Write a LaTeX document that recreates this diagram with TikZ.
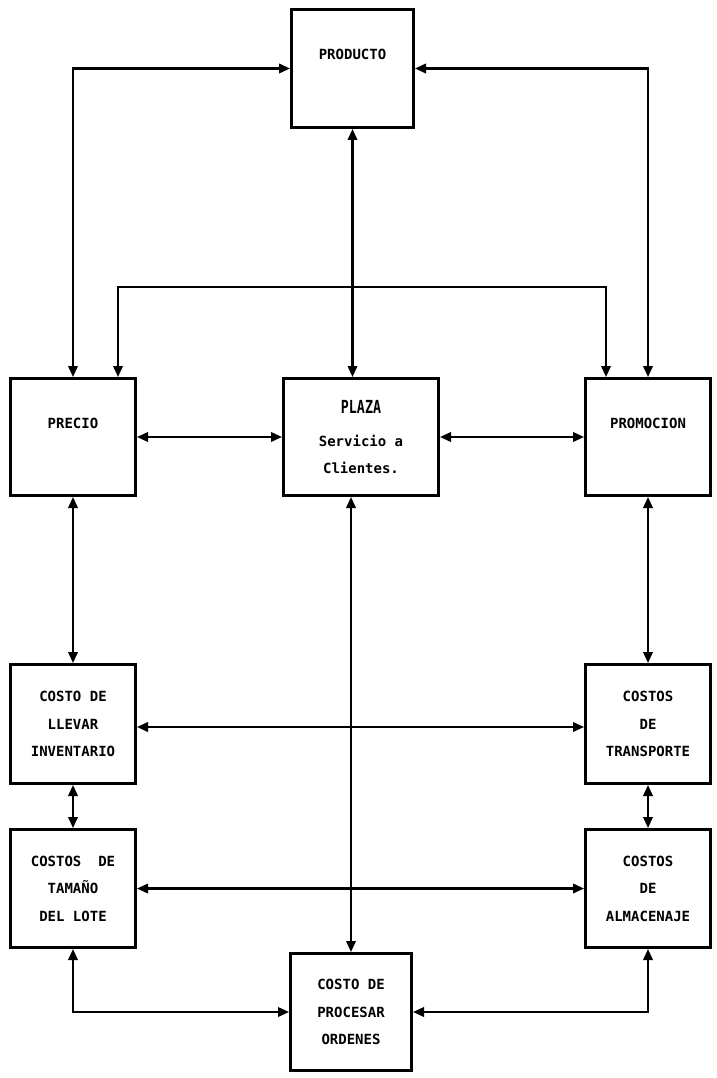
\documentclass[tikz,border=0pt]{standalone}
\usepackage{fontspec}
\usepackage{graphicx}
\usetikzlibrary{arrows.meta}
\newfontfamily\boxfont{DejaVu Sans Mono}

% condensed title lettering for the central box
\newcommand{\plazatitle}[1]{{\fontsize{18}{20}\selectfont\bfseries\scalebox{0.74}[1]{#1}}}

\tikzset{
  box/.style={draw, line width=3.4pt, inner sep=0pt, align=center,
    minimum width=124.6pt, minimum height=116.6pt,
    font=\boxfont\bfseries\fontsize{14}{27.5}\selectfont},
  link/.style={line width=2.1pt,
    {Triangle[length=11pt,width=9.5pt]}-{Triangle[length=11pt,width=9.5pt]}},
}

\begin{document}
\begin{tikzpicture}[x=1pt,y=-1pt]
  \useasboundingbox[fill=white] (0,0) rectangle (716,1078);

  % the marketing mix
  \node[box, minimum width=121.6pt, minimum height=117.6pt] (prod) at (352.5,68.5) {PRODUCTO\\\mbox{}};
  \node[box] (prec) at (73,437) {PRECIO\\\mbox{}};
  \node[box, minimum width=154.6pt, font=\boxfont\bfseries\fontsize{14}{27}\selectfont] (plaza) at (361,437)
    {\plazatitle{PLAZA}\\[6pt]Servicio a\\Clientes.};
  \node[box] (prom) at (648,437) {PROMOCION\\\mbox{}};

  % logistic costs
  \node[box, minimum height=118.6pt] (llev) at (73,724) {COSTO DE\\LLEVAR\\INVENTARIO};
  \node[box, minimum height=118.6pt] (trans) at (648,724) {COSTOS\\DE\\TRANSPORTE};
  \node[box, minimum height=117.6pt] (lote) at (73,888.5) {COSTOS~~DE\\TAMAÑO\\DEL LOTE};
  \node[box, minimum height=117.6pt] (alm) at (648,888.5) {COSTOS\\DE\\ALMACENAJE};
  \node[box, minimum width=120.6pt, minimum height=116.6pt] (ord) at (351,1012) {COSTO DE\\PROCESAR\\ORDENES};

  % bracket joining price and promotion
  \coordinate (bl) at (118,287);
  \coordinate (br) at (606,287);

  % connectors
  \draw[link] (prod.west) -| (prec.north);
  \draw[link] (prod.east) -| (prom.north);
  \draw[link] (prec.north -| bl) -- (bl) -- (br) -- (prom.north -| br);
  \draw[link] (prod.south) -- (prod.south |- plaza.north);
  \draw[link] (prec.east) -- (plaza.west);
  \draw[link] (plaza.east) -- (prom.west);
  \draw[link] (prec.south) -- (llev.north);
  \draw[link] (prom.south) -- (trans.north);
  \draw[link] (plaza.south -| ord.north) -- (ord.north);
  \draw[link] ([yshift=-3pt]llev.east) -- ([yshift=-3pt]trans.west);
  \draw[link] (llev.south) -- (lote.north);
  \draw[link] (trans.south) -- (alm.north);
  \draw[link] (lote.east) -- (alm.west);
  \draw[link] (lote.south) |- (ord.west);
  \draw[link] (alm.south) |- (ord.east);
\end{tikzpicture}
\end{document}
